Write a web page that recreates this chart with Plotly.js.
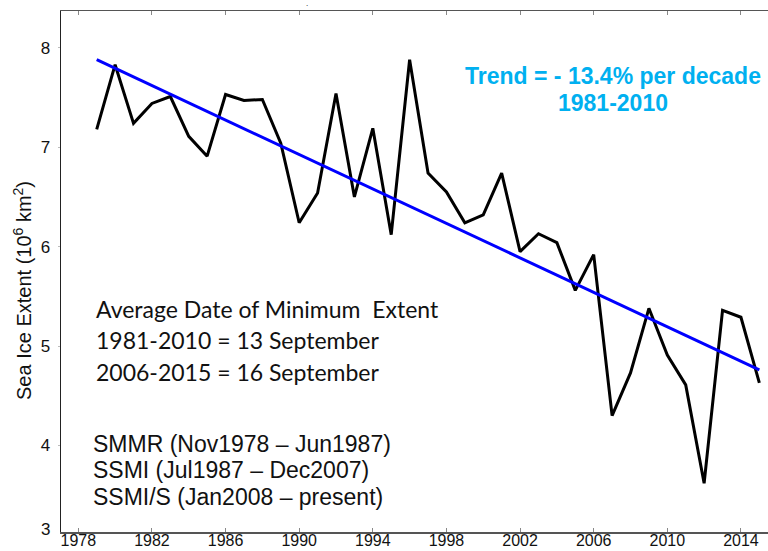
<!DOCTYPE html>
<html>
<head>
<meta charset="utf-8">
<script src="https://cdn.plot.ly/plotly-3.0.1.min.js"></script>
<style>html,body{margin:0;padding:0;background:#fff;}#chart{width:768px;height:551px;}</style>
</head>
<body>
<div id="chart"></div>
<script>
const years = [1979,1980,1981,1982,1983,1984,1985,1986,1987,1988,1989,1990,1991,1992,1993,1994,1995,1996,1997,1998,1999,2000,2001,2002,2003,2004,2005,2006,2007,2008,2009,2010,2011,2012,2013,2014,2015];
const extent = [7.18,7.83,7.24,7.44,7.51,7.11,6.91,7.53,7.47,7.48,7.04,6.24,6.54,7.54,6.50,7.19,6.12,7.88,6.74,6.55,6.24,6.32,6.74,5.95,6.13,6.04,5.56,5.92,4.30,4.73,5.38,4.91,4.61,3.62,5.36,5.29,4.63];
const trendYears = [1979, 2015];
const trendValues = [7.88, 4.76];
const xTicks = [1978,1982,1986,1990,1994,1998,2002,2006,2010,2014];
const yTicks = [4,5,6,7,8];
const trendLabel = ["Trend = - 13.4% per decade", "1981-2010"];
const dateLines = ["Average Date of Minimum\u00a0 Extent", "1981-2010 = 13 September", "2006-2015 = 16 September"];
const sensorLines = ["SMMR (Nov1978 \u2013 Jun1987)", "SSMI (Jul1987 \u2013 Dec2007)", "SSMI/S (Jan2008 \u2013 present)"];

const L = 61, T = 11, B = 532, R = 768;
const W = R - L, H = B - T;
const px = x => (x - L) / W;
const py = y => (B - y) / H;

const traces = [
  {x: years, y: extent, type: 'scatter', mode: 'lines', line: {color: '#000000', width: 3}, hoverinfo: 'x+y'},
  {x: trendYears, y: trendValues, type: 'scatter', mode: 'lines', line: {color: '#0000ff', width: 3}, hoverinfo: 'x+y'}
];

const ann = [];
trendLabel.forEach((t, i) => ann.push({
  text: t, xref: 'paper', yref: 'paper', x: px(613), y: py([75.5, 103][i]),
  xanchor: 'center', yanchor: 'middle', showarrow: false,
  font: {family: 'Liberation Sans, Arial, sans-serif', size: 23, color: '#00b0f0', weight: 'bold'}
}));
dateLines.forEach((t, i) => ann.push({
  text: t, xref: 'paper', yref: 'paper', x: px(94), y: py([308.5, 340.2, 371.9][i]),
  xanchor: 'left', yanchor: 'middle', showarrow: false,
  font: {family: 'Lato, sans-serif', size: 23, color: '#111111'}
}));
sensorLines.forEach((t, i) => ann.push({
  text: t, xref: 'paper', yref: 'paper', x: px(91), y: py([443.5, 469.5, 497][i]),
  xanchor: 'left', yanchor: 'middle', showarrow: false,
  font: {family: 'Liberation Sans, Arial, sans-serif', size: 23, color: '#111111'}
}));
// y tick "3" sits at the bottom edge
ann.push({text: '3', xref: 'paper', yref: 'paper', x: px(52), y: py(529), xanchor: 'right', yanchor: 'middle', showarrow: false,
  font: {family: 'Liberation Sans, Arial, sans-serif', size: 17, color: '#111111'}});
// y axis title
ann.push({text: 'Sea Ice Extent (10<sup>6</sup> km<sup>2</sup>)', xref: 'paper', yref: 'paper', x: px(22), y: py(291),
  xanchor: 'center', yanchor: 'middle', textangle: -90, showarrow: false,
  font: {family: 'Liberation Sans, Arial, sans-serif', size: 20, color: '#111111'}});

const layout = {
  width: 768, height: 551,
  margin: {l: L, r: 768 - R, t: T, b: 551 - B, pad: 0},
  paper_bgcolor: '#ffffff', plot_bgcolor: '#ffffff',
  showlegend: false,
  title: {text: '.', x: 0.4, xref: 'container', y: 1, yref: 'container', yanchor: 'top', pad: {t: 0, b: 0, l: 0, r: 0},
    font: {family: 'Liberation Sans, Arial, sans-serif', size: 8, color: '#000'}},
  xaxis: {
    range: [1977.06, 2015.47], tickvals: xTicks, ticktext: xTicks.map(String),
    showgrid: false, zeroline: false, showline: true, linecolor: '#555555', linewidth: 1.5,
    mirror: 'ticks', ticks: 'inside', ticklen: 4, tickcolor: '#888888', tickwidth: 1, ticklabelstandoff: -7,
    tickfont: {family: 'Liberation Sans, Arial, sans-serif', size: 16, color: '#111111'}
  },
  yaxis: {
    range: [3.13, 8.37], tickvals: yTicks, ticktext: yTicks.map(String),
    showgrid: false, zeroline: false, showline: true, linecolor: '#222222', linewidth: 1.5,
    ticks: 'outside', ticklen: 2, tickcolor: '#bbbbbb', tickwidth: 1, ticklabelstandoff: 4,
    tickfont: {family: 'Liberation Sans, Arial, sans-serif', size: 17, color: '#111111'}
  },
  annotations: ann
};

Plotly.newPlot('chart', traces, layout, {displayModeBar: false, staticPlot: true});
</script>
</body>
</html>
